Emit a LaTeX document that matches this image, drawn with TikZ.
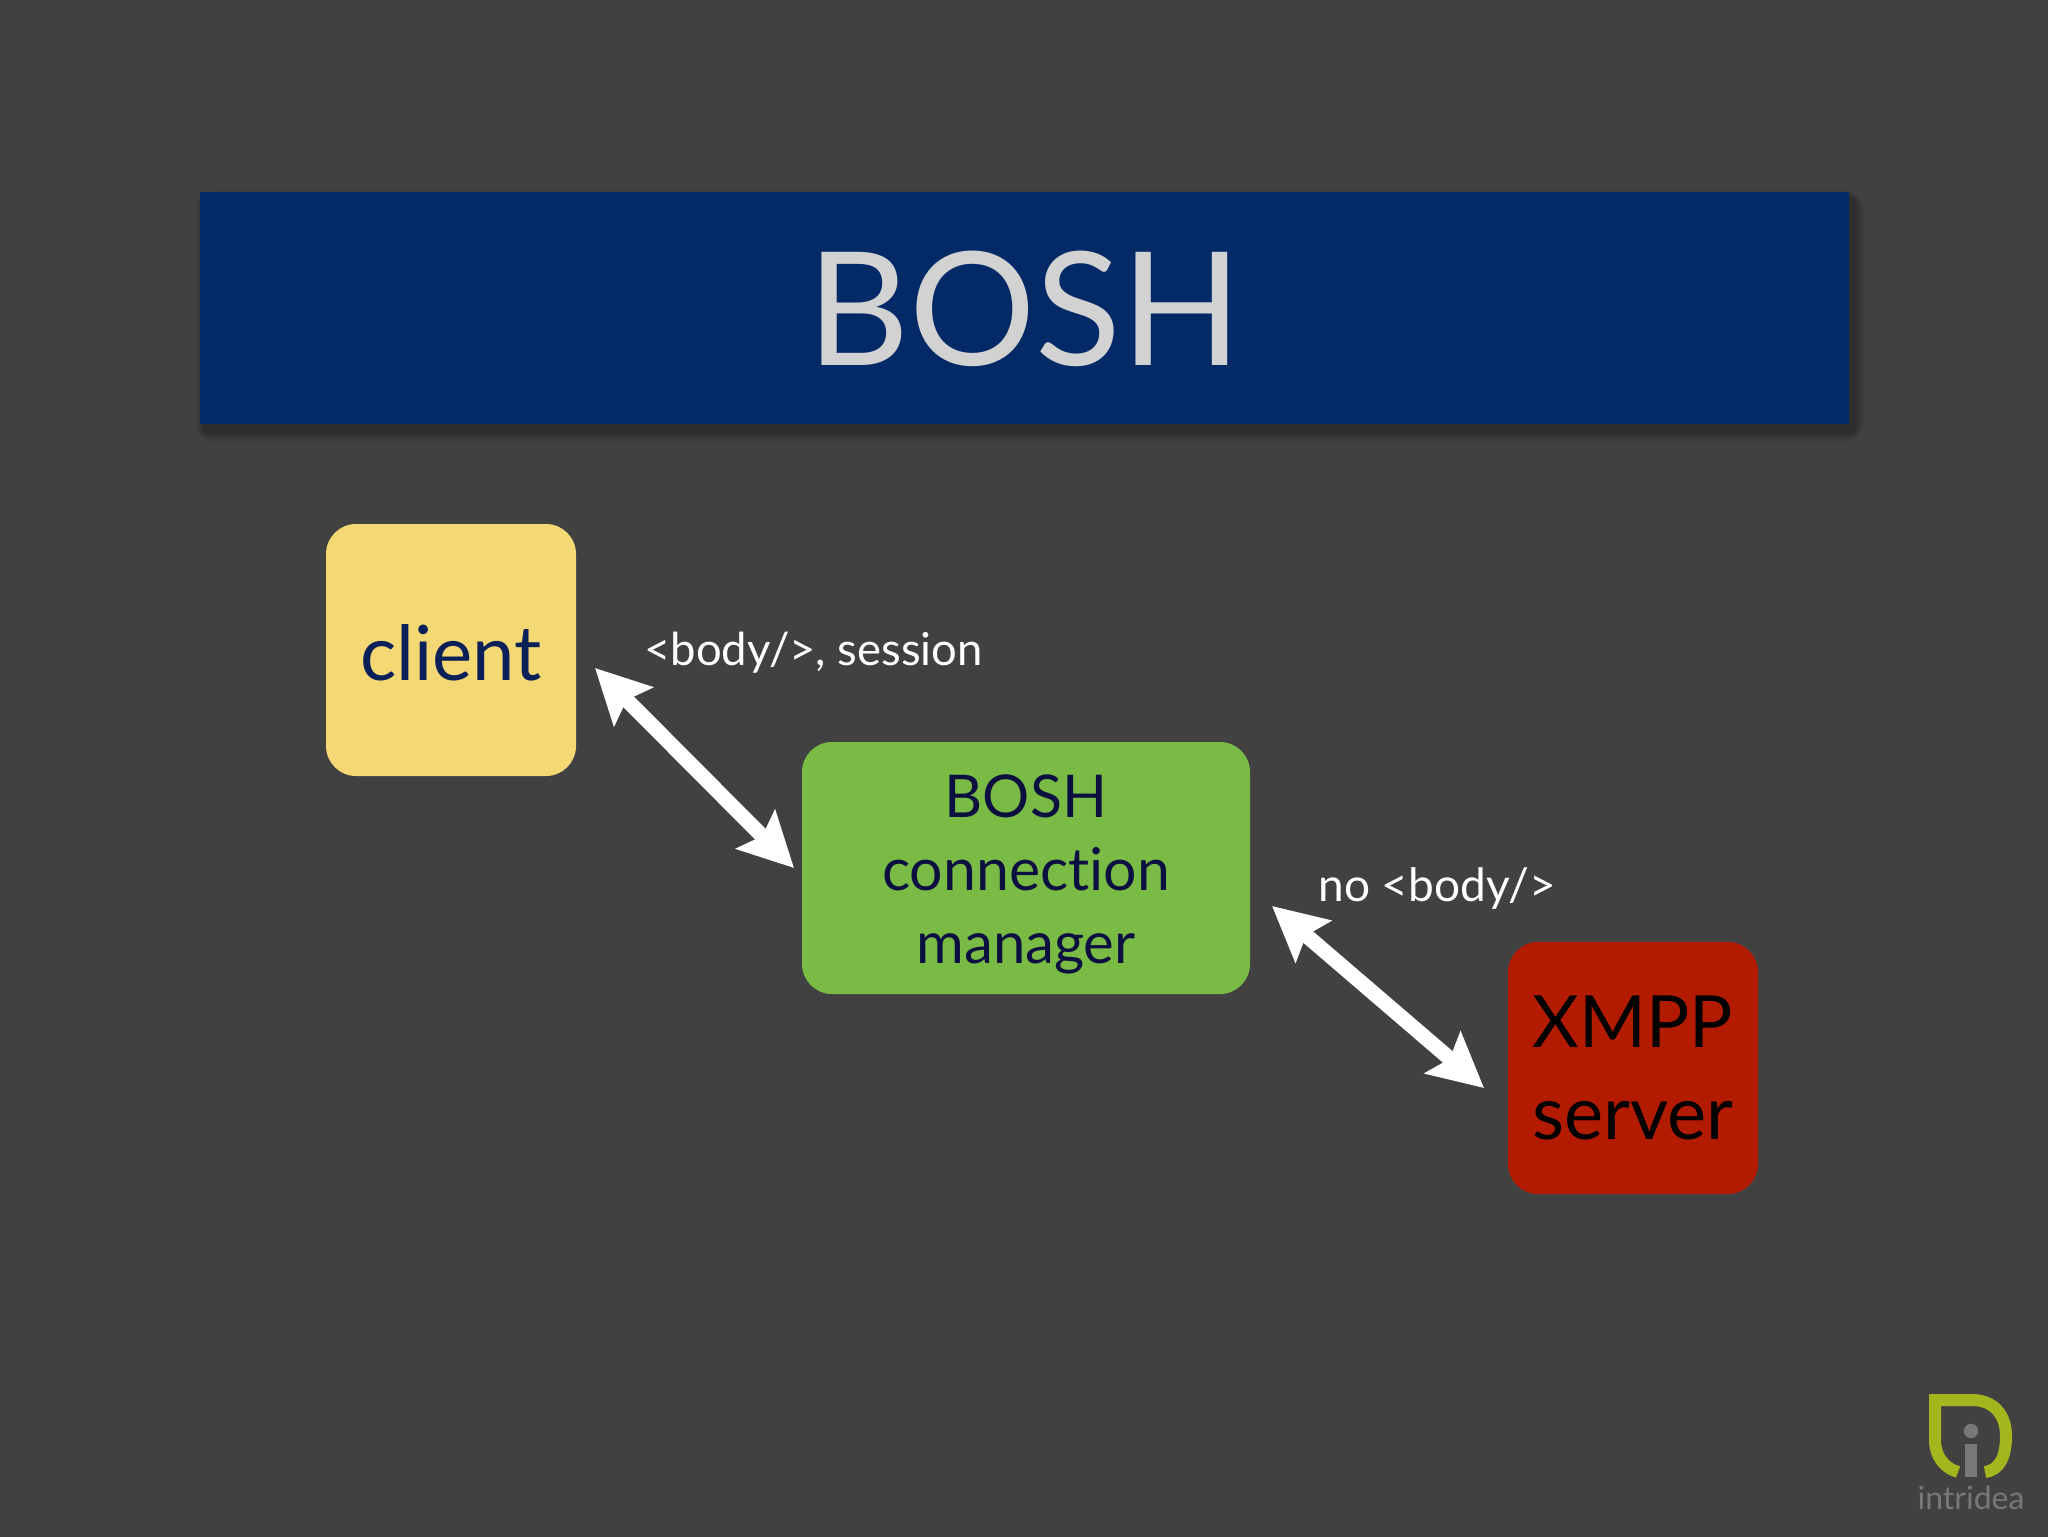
\documentclass[tikz,border=0pt]{standalone}
\usepackage{fontspec}
\setmainfont[Ligatures=NoCommon]{Lato}
\usetikzlibrary{arrows.meta,shadings}
\definecolor{bg}{HTML}{424142}
\definecolor{titleblue}{HTML}{032A66}
\definecolor{titletext}{HTML}{D2D2D2}
\definecolor{clientfill}{HTML}{F4D874}
\definecolor{navy}{HTML}{0B2058}
\definecolor{greenfill}{HTML}{79BB45}
\definecolor{greentext}{HTML}{0C1040}
\definecolor{redfill}{HTML}{B31B00}
\definecolor{lime}{HTML}{A3B61E}
\definecolor{logogray}{HTML}{77787A}
\tikzset{
  x=0.5pt,y=-0.5pt,
  boxnode/.style={rectangle,rounded corners=15pt,inner sep=0pt,align=center,minimum height=126pt},
  edgetext/.style={anchor=base west,inner sep=0pt,text=white},
  bidir/.style={draw=white,line width=7.5pt,{Stealth[length=27pt,width=27pt,inset=4.5pt]}-{Stealth[length=27pt,width=27pt,inset=4.5pt]}},
}
\begin{document}
\begin{tikzpicture}
\useasboundingbox (0,0) rectangle (2048,1536);
\fill[bg] (-6,-6) rectangle (2054,1542);
% title shadow
\foreach \d in {10,9,...,1}{
  \fill[black,opacity=0.025,rounded corners=\d pt] (200+5-\d,192+8-\d) rectangle (1849+5+\d,424+8+\d);
}
\node[rectangle,fill=titleblue,inner sep=0pt,minimum width=824.5pt,minimum height=116pt,
  text=titletext,font=\fontsize{79}{90}\selectfont,text height=58pt] (title) at (1024.5,308) {BOSH};
\node[boxnode,minimum width=125pt,fill=clientfill,text=navy,font=\fontsize{38}{40}\selectfont,text height=31pt] (client) at (451,650) {client};
\node[boxnode,minimum width=224pt,fill=greenfill,text=greentext,font=\fontsize{29.5}{36.5}\selectfont] (cm) at (1026,868) {\rule{0pt}{28pt}BOSH\\connection\\{\fontsize{29}{36.5}\selectfont manager}};
\node[boxnode,minimum width=125pt,fill=redfill,text=black,font=\fontsize{37}{46}\selectfont] (xmpp) at (1633,1068) {{\fontsize{36}{46}\selectfont XMPP}\\server};
\node[edgetext,font=\fontsize{22.7}{26}\selectfont] (lab1) at (644,665) {<body/>, session};
\node[edgetext,font=\fontsize{23}{26}\selectfont] (lab2) at (1318,901) {no <body/>};
\coordinate (a1) at (595,668);
\coordinate (a2) at (794,868);
\coordinate (b1) at (1272,906);
\coordinate (b2) at (1484,1088);
\draw[bidir] (a1) -- (a2);
\draw[bidir] (b1) -- (b2);
% logo
\draw[lime,line width=6pt,line cap=butt,line join=miter]
  (1958,1472) .. controls (1944,1468) and (1935,1456) .. (1935,1440) -- (1935,1400) -- (1972,1400)
  .. controls (1993,1400) and (2006,1414) .. (2006,1436) .. controls (2006,1456) and (2000,1470) .. (1985,1472);
\fill[logogray] (1971,1431) circle (3.6pt);
\fill[logogray] (1965,1444) rectangle (1977,1477);
\node[inner sep=0pt,anchor=base,text=logogray,font=\fontsize{16}{18}\selectfont] (logo) at (1971,1509) {intridea};
\end{tikzpicture}
\end{document}
